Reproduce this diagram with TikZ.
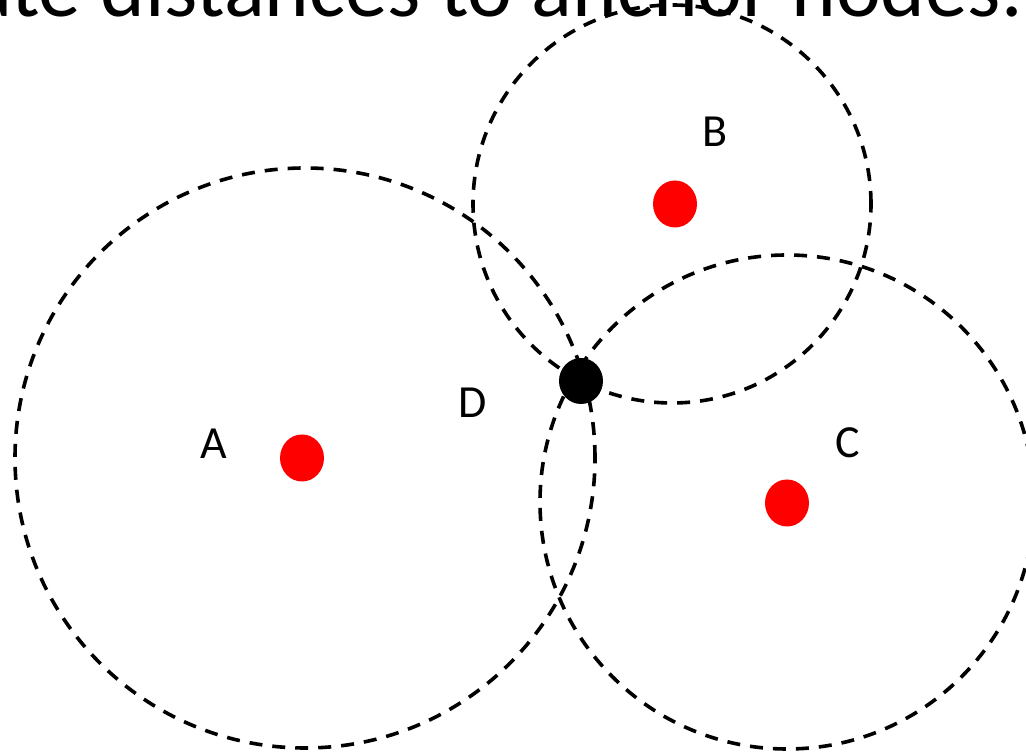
\documentclass[tikz,border=0pt]{standalone}
\usepackage{fontspec}
\setmainfont{Carlito}
\usetikzlibrary{shapes.geometric}
\begin{document}
\begin{tikzpicture}[x=1pt,y=1pt,
  rangecircle/.style={draw=black, line width=3.6pt, dash pattern=on 13pt off 10pt},
  anchordot/.style={ellipse, fill=red, draw=none, minimum width=44pt, minimum height=47pt, inner sep=0pt},
  unknowndot/.style={ellipse, fill=black, draw=none, minimum width=44pt, minimum height=46pt, inner sep=0pt},
  lbl/.style={font=\fontsize{46}{50}\selectfont, text=black, inner sep=0pt}]
\useasboundingbox (0,0) rectangle (1026,752);
\clip (0,0) rectangle (1026,752);
\fill[white] (0,0) rectangle (1026,752);
% range circles
\coordinate (ca) at (305,294);
\coordinate (cb) at (672,548);
\coordinate (cc) at (787,250);
\draw[rangecircle] (ca) circle (290);
\draw[rangecircle] (cb) circle (199);
\draw[rangecircle] (cc) circle (247);
% title (cropped at the top edge, as in the reference)
\node[anchor=base east, inner sep=0pt, font=\fontsize{85}{90}\selectfont] (title) at (1023,735) {ate distances to anchor nodes.};
% nodes
\node[anchordot] (a) at (302,294) {};
\node[anchordot] (b) at (675,548) {};
\node[anchordot] (c) at (787,249) {};
\node[unknowndot] (d) at (581,371) {};
% labels
\node[lbl] (la) at (214,308) {A};
\node[lbl] (lb) at (715,620) {B};
\node[lbl] (lc) at (848,309) {C};
\node[lbl] (ld) at (473,349) {D};
\end{tikzpicture}
\end{document}
